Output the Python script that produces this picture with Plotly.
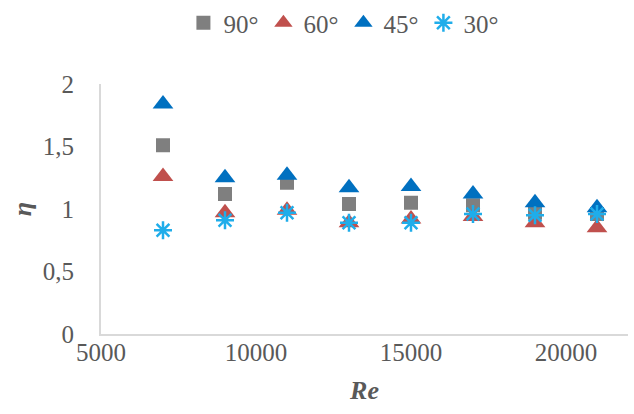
import plotly.graph_objects as go

# Reynolds numbers tested
re_values = [7000, 9000, 11000, 13000, 15000, 17000, 19000, 21000]

# Efficiency η for each inclination angle
eta_90 = [1.51, 1.12, 1.21, 1.04, 1.05, 1.03, 0.97, 0.96]
eta_60 = [1.26, 0.97, 0.99, 0.89, 0.92, 0.94, 0.89, 0.85]
eta_45 = [1.84, 1.25, 1.27, 1.17, 1.18, 1.12, 1.05, 1.01]
eta_30 = [0.83, 0.91, 0.97, 0.89, 0.89, 0.96, 0.95, 0.96]

series_names = ["90°", "60°", "45°", "30°"]

x_tick_vals = [5000, 10000, 15000, 20000]
x_tick_text = ["5000", "10000", "15000", "20000"]
y_tick_vals = [0, 0.5, 1, 1.5, 2]
y_tick_text = ["0", "0,5", "1", "1,5", "2"]

FONT = "Liberation Serif, Times New Roman, serif"
TXT = "#595959"

fig = go.Figure()
fig.add_trace(go.Scatter(
    x=re_values, y=eta_90, mode="markers", name=series_names[0],
    marker=dict(symbol="square", size=14, color="#7F7F7F"),
))
fig.add_trace(go.Scatter(
    x=re_values, y=eta_60, mode="markers", name=series_names[1],
    marker=dict(symbol="triangle-up", size=18, color="#C0504D"),
))
fig.add_trace(go.Scatter(
    x=re_values, y=eta_45, mode="markers", name=series_names[2],
    marker=dict(symbol="triangle-up", size=18, color="#0070C0"),
))
fig.add_trace(go.Scatter(
    x=re_values, y=eta_30, mode="markers", name=series_names[3],
    marker=dict(symbol="asterisk-open", size=15, color="#1FADEA",
                line=dict(width=2.5, color="#1FADEA")),
))

fig.update_layout(
    width=634, height=414,
    margin=dict(l=101, r=6, t=84, b=80),
    paper_bgcolor="white", plot_bgcolor="white",
    font=dict(family=FONT, size=25, color=TXT),
    showlegend=True,
    legend=dict(
        orientation="h", x=0.46, xanchor="center", y=1.0, yanchor="top",
        yref="container", font=dict(family=FONT, size=25, color=TXT),
        itemwidth=30, tracegroupgap=0,
    ),
    xaxis=dict(
        range=[5000, 22000], tickmode="array",
        tickvals=x_tick_vals, ticktext=x_tick_text,
        showgrid=False, zeroline=False,
        showline=True, linecolor="#D9D9D9", linewidth=2,
        ticks="", ticklabelstandoff=-5,
        tickfont=dict(family=FONT, size=25, color=TXT),
        title=dict(text="<b><i>Re</i></b>", standoff=16,
                   font=dict(family=FONT, size=26, color=TXT)),
    ),
    yaxis=dict(
        range=[0, 2], tickmode="array",
        tickvals=y_tick_vals, ticktext=y_tick_text,
        showgrid=False, zeroline=False,
        showline=True, linecolor="#D9D9D9", linewidth=2,
        ticks="", ticklabelstandoff=20,
        tickfont=dict(family=FONT, size=25, color=TXT),
        title=dict(text="<b><i>η</i></b>", standoff=4,
                   font=dict(family=FONT, size=26, color=TXT)),
    ),
)

fig.write_html("out.html")
